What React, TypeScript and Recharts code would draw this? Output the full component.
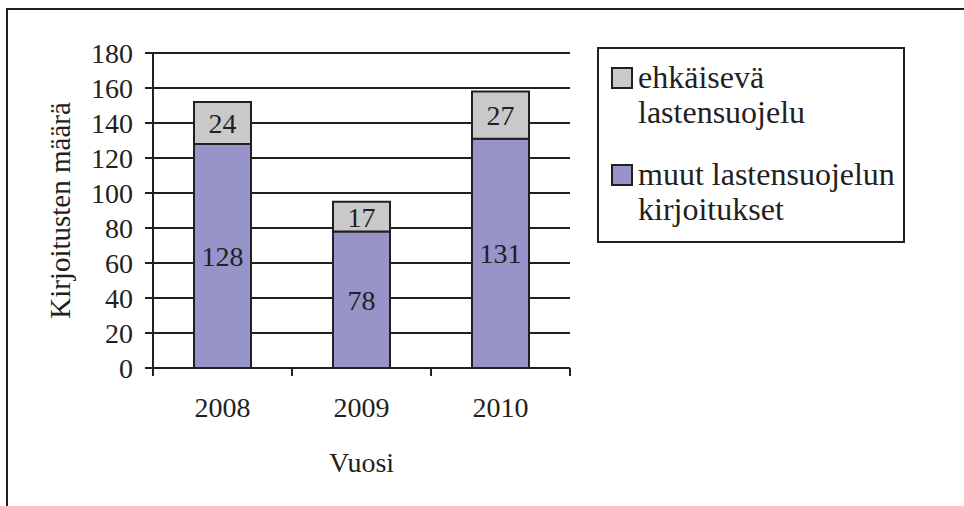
import React from 'react';
import { BarChart, Bar, XAxis, YAxis, CartesianGrid, Legend, LabelList } from 'recharts';

const years = ['2008', '2009', '2010'];
const muutValues = [128, 78, 131];
const ehkValues = [24, 17, 27];
const yTicks = [0, 20, 40, 60, 80, 100, 120, 140, 160, 180];
const seriesNames = ['ehkäisevä lastensuojelu', 'muut lastensuojelun kirjoitukset'];
const legendLines = [
  ['ehkäisevä', 'lastensuojelu'],
  ['muut lastensuojelun', 'kirjoitukset'],
];
const yTitle = 'Kirjoitusten määrä';
const xTitle = 'Vuosi';

const INK = '#231F20';
const PURPLE = '#9794C9';
const GREY = '#C9C9C9';
const FONT = "'Liberation Serif', 'Times New Roman', Times, serif";

const data = years.map((y, i) => ({ year: y, muut: muutValues[i], ehk: ehkValues[i] }));

const XTick = (props: any) => {
  const { x, y, payload, index, visibleTicksCount } = props;
  const half = payload.offset || 0;
  const last = index === (visibleTicksCount ?? years.length) - 1;
  return (
    <g>
      <line x1={x - half} x2={x - half} y1={y} y2={y + 8} stroke={INK} strokeWidth={2} />
      {last && <line x1={x + half} x2={x + half} y1={y} y2={y + 8} stroke={INK} strokeWidth={2} />}
      <text x={x} y={y + 49} textAnchor="middle" fill={INK} fontSize={28} fontFamily={FONT}>
        {payload.value}
      </text>
    </g>
  );
};

const LegendBox = () => {
  const colors = [GREY, PURPLE];
  return (
    <svg width={308} height={196} style={{ display: 'block' }}>
      <rect x={1} y={1} width={306} height={194} fill="#fff" stroke={INK} strokeWidth={2} />
      {legendLines.map((lines, i) => (
        <g key={i}>
          <rect x={15} y={21 + i * 97} width={20} height={20} fill={colors[i]} stroke={INK} strokeWidth={2} />
          {lines.map((ln, j) => (
            <text key={j} x={41} y={41 + i * 97 + j * 35} fill={INK} fontSize={32} fontFamily={FONT}>
              {ln}
            </text>
          ))}
        </g>
      ))}
    </svg>
  );
};

export default function App() {
  return (
    <div style={{ position: 'fixed', left: 0, top: 0, width: 964, height: 506, overflow: 'hidden', background: '#fff', fontFamily: FONT }}>
      <div
        style={{
          position: 'absolute',
          left: 6,
          top: 8,
          width: 1200,
          height: 800,
          border: `2px solid ${INK}`,
        }}
      />
      <div style={{ position: 'absolute', left: 0, top: 0 }}>
        <BarChart
          width={964}
          height={506}
          data={data}
          margin={{ top: 53, right: 394, bottom: 28, left: 0 }}
          style={{ fontFamily: FONT }}
        >
          <CartesianGrid vertical={false} stroke={INK} strokeWidth={2} />
          <XAxis
            dataKey="year"
            height={110}
            axisLine={{ stroke: INK, strokeWidth: 2 }}
            tickLine={false}
            tickSize={0}
            tickMargin={0}
            tick={<XTick />}
            interval={0}
            label={{ value: xTitle, position: 'center', dy: 39, fill: INK, fontSize: 28, fontFamily: FONT }}
          />
          <YAxis
            width={153}
            domain={[0, 180]}
            ticks={yTicks}
            interval={0}
            axisLine={{ stroke: INK, strokeWidth: 2 }}
            tickLine={{ stroke: INK, strokeWidth: 2 }}
            tickSize={8}
            tickMargin={12}
            tick={{ fill: INK, fontSize: 28, fontFamily: FONT }}
            label={{ value: yTitle, angle: -90, position: 'center', dx: -17, fill: INK, fontSize: 29, fontFamily: FONT }}
          />
          <Legend
            layout="horizontal"
            verticalAlign="middle"
            align="center"
            content={<LegendBox />}
            wrapperStyle={{ left: 597, top: 47, width: 308, height: 196 }}
          />
          <Bar dataKey="muut" name={seriesNames[1]} stackId="a" fill={PURPLE} stroke={INK} strokeWidth={2} barSize={57} isAnimationActive={false}>
            <LabelList dataKey="muut" position="center" fill={INK} fontSize={28} fontFamily={FONT} />
          </Bar>
          <Bar dataKey="ehk" name={seriesNames[0]} stackId="a" fill={GREY} stroke={INK} strokeWidth={2} barSize={57} isAnimationActive={false}>
            <LabelList dataKey="ehk" position="center" fill={INK} fontSize={28} fontFamily={FONT} />
          </Bar>
        </BarChart>
      </div>
    </div>
  );
}
